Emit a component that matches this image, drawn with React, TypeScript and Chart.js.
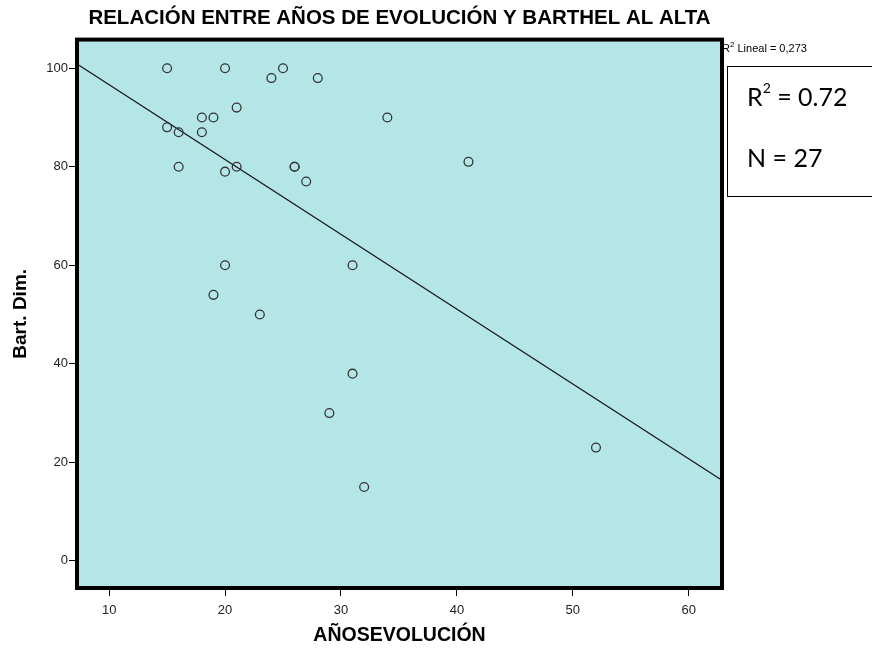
import React, { useEffect, useRef } from "react";
import { Chart, registerables } from "chart.js";

Chart.register(...registerables);

// Data
const xValues = [15, 20, 25, 24, 28, 21, 18, 19, 34, 15, 16, 18, 16, 20, 21, 26, 26, 27, 41, 20, 31, 19, 23, 31, 29, 52, 32];
const yValues = [100, 100, 100, 98, 98, 92, 90, 90, 90, 88, 87, 87, 80, 79, 80, 80, 80, 77, 81, 60, 60, 54, 50, 38, 30, 23, 15];
const xTicks = [10, 20, 30, 40, 50, 60];
const yTicks = [0, 20, 40, 60, 80, 100];
const xRange = [7.4, 62.7];
const yRange = [-5.1, 105.4];

const TITLE = "RELACIÓN ENTRE AÑOS DE EVOLUCIÓN Y BARTHEL AL ALTA";
const X_TITLE = "AÑOSEVOLUCIÓN";
const Y_TITLE = "Bart. Dim.";
const FIT_LABEL = "Lineal = 0,273";
const BOX_R2 = "0.72";
const BOX_N = "27";

const FONT = "'Liberation Sans', Arial, sans-serif";
const PLOT_BG = "#b4e6e7";

export default function App() {
  const ref = useRef<HTMLCanvasElement | null>(null);

  useEffect(() => {
    document.body.style.margin = "0";
    const canvas = ref.current;
    if (!canvas) return;

    // least-squares fit line
    const n = xValues.length;
    const mx = xValues.reduce((s, v) => s + v, 0) / n;
    const my = yValues.reduce((s, v) => s + v, 0) / n;
    let sxy = 0;
    let sxx = 0;
    for (let i = 0; i < n; i++) {
      sxy += (xValues[i] - mx) * (yValues[i] - my);
      sxx += (xValues[i] - mx) * (xValues[i] - mx);
    }
    const slope = sxy / sxx;
    const intercept = my - slope * mx;

    const framePlugin = {
      id: "plotFrame",
      beforeDraw(chart: any) {
        const { ctx, chartArea: a } = chart;
        ctx.save();
        ctx.fillStyle = PLOT_BG;
        ctx.fillRect(a.left, a.top, a.right - a.left, a.bottom - a.top);
        ctx.restore();
      },
      afterDatasetsDraw(chart: any) {
        const { ctx, chartArea: a } = chart;
        ctx.save();
        ctx.strokeStyle = "#000";
        ctx.lineWidth = 4;
        ctx.strokeRect(a.left - 2, a.top - 2, a.right - a.left + 4, a.bottom - a.top + 4);
        ctx.restore();
      },
    };

    const chart = new Chart(canvas, {
      type: "scatter",
      data: {
        datasets: [
          {
            label: "Bart. Dim.",
            data: xValues.map((x, i) => ({ x, y: yValues[i] })),
            pointStyle: "circle",
            pointRadius: 4.4,
            pointBorderWidth: 1.3,
            borderColor: "#333",
            backgroundColor: "rgba(0,0,0,0)",
            order: 1,
          },
          {
            label: "Lineal",
            data: xRange.map((x) => ({ x, y: intercept + slope * x })),
            showLine: true,
            borderColor: "#1a1a1a",
            borderWidth: 1.3,
            pointRadius: 0,
            order: 2,
          } as any,
        ],
      },
      options: {
        responsive: false,
        animation: false,
        devicePixelRatio: 1,
        layout: { padding: { left: 0, right: 152, top: 0, bottom: 0 } },
        plugins: {
          legend: { display: false },
          tooltip: { enabled: false },
          title: {
            display: true,
            text: TITLE,
            fullSize: false,
            color: "#000",
            font: { family: FONT, size: 20.5, weight: "bold", lineHeight: 1.2 },
            padding: { top: 6.5, bottom: 10.5 },
          },
        },
        scales: {
          x: {
            type: "linear",
            min: xRange[0],
            max: xRange[1],
            afterBuildTicks: (s: any) => {
              s.ticks = xTicks.map((v) => ({ value: v }));
            },
            afterFit: (s: any) => {
              s.height = 64;
            },
            grid: { drawOnChartArea: false, drawTicks: true, tickLength: 10, tickColor: "#000", tickWidth: 1 },
            border: { display: false },
            ticks: { font: { family: FONT, size: 13 }, color: "#222", padding: 7, maxRotation: 0, autoSkip: false },
            title: {
              display: true,
              text: X_TITLE,
              color: "#000",
              font: { family: FONT, size: 19.5, weight: "bold", lineHeight: 1.2 },
              padding: { top: 0, bottom: 3 },
            },
          },
          y: {
            type: "linear",
            min: yRange[0],
            max: yRange[1],
            afterBuildTicks: (s: any) => {
              s.ticks = yTicks.map((v) => ({ value: v }));
            },
            afterFit: (s: any) => {
              s.width = 79;
            },
            grid: { drawOnChartArea: false, drawTicks: true, tickLength: 10, tickColor: "#000", tickWidth: 1 },
            border: { display: false },
            ticks: { font: { family: FONT, size: 13 }, color: "#222", padding: 1, autoSkip: false },
            title: {
              display: true,
              text: Y_TITLE,
              color: "#000",
              font: { family: FONT, size: 19, weight: "bold", lineHeight: 1.2 },
              padding: { top: 9, bottom: 0 },
            },
          },
        },
      },
      plugins: [framePlugin],
    });

    return () => chart.destroy();
  }, []);

  return (
    <div style={{ position: "fixed", left: 0, top: 0, width: 872, height: 650, background: "#fff", overflow: "hidden" }}>
      <canvas ref={ref} width={872} height={650} style={{ width: 872, height: 650, display: "block" }} />
      <div
        style={{
          position: "absolute",
          left: 722,
          top: 41,
          fontFamily: FONT,
          fontSize: 11,
          color: "#000",
          whiteSpace: "nowrap",
          lineHeight: "14px",
        }}
      >
        R<sup style={{ fontSize: 8, verticalAlign: "top", lineHeight: "8px" }}>2</sup> {FIT_LABEL}
      </div>
      <div
        style={{
          position: "absolute",
          left: 727,
          top: 66,
          width: 160,
          height: 129,
          border: "1.5px solid #000",
          background: "#fff",
          fontFamily: "Lato, 'Open Sans', sans-serif",
          fontSize: 25,
          color: "#000",
        }}
      >
        <div style={{ position: "absolute", left: 19, top: 15, whiteSpace: "nowrap", lineHeight: "28px" }}>
          R<sup style={{ fontSize: 14, verticalAlign: "top", lineHeight: "14px", position: "relative", top: -1 }}>2</sup> = {BOX_R2}
        </div>
        <div style={{ position: "absolute", left: 19, top: 76, whiteSpace: "nowrap", lineHeight: "28px" }}>
          N = {BOX_N}
        </div>
      </div>
    </div>
  );
}
